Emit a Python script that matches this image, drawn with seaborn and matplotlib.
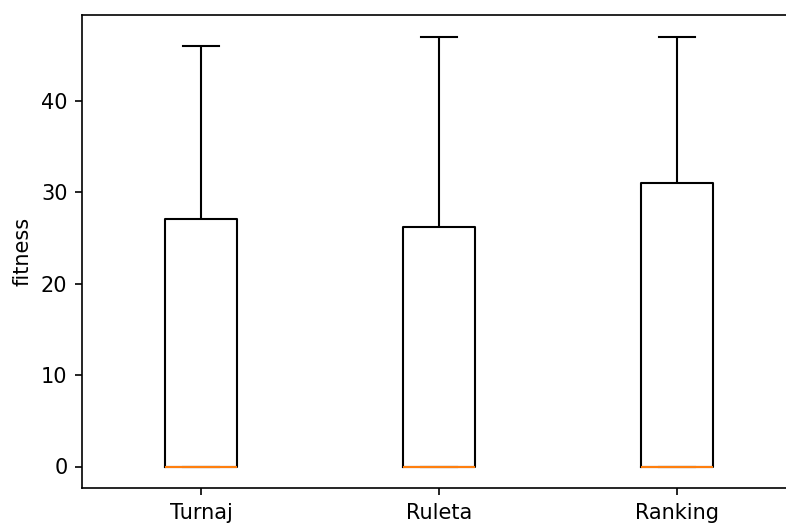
import matplotlib
matplotlib.use("Agg")
import matplotlib.pyplot as plt
import seaborn as sns
import pandas as pd

categories = ["Turnaj", "Ruleta", "Ranking"]
turnaj = [0, 0, 0, 27, 46]
ruleta = [0, 0, 0, 26.2, 47]
ranking = [0, 0, 0, 31, 47]

rows = []
for cat, vals in zip(categories, [turnaj, ruleta, ranking]):
    for v in vals:
        rows.append({"method": cat, "fitness": v})
df = pd.DataFrame(rows)

fig = plt.figure(figsize=(786 / 150, 523 / 150), dpi=150)
ax = fig.add_axes([82 / 786, 35 / 523, 714 / 786, 473 / 523])

sns.boxplot(
    data=df, x="method", y="fitness", order=categories, ax=ax,
    width=0.3, fill=False, color="black", linewidth=1.0, whis=1.5,
    medianprops={"color": "#ff7f0e"},
    showfliers=True,
)
ax.set_xlim(-0.5, 2.5)
ax.set_ylim(-2.35, 49.35)
ax.set_yticks([0, 10, 20, 30, 40])
ax.set_xlabel("")
ax.set_ylabel("fitness")
ax.spines["right"].set_visible(False)

fig.savefig("out.png", dpi=150)
